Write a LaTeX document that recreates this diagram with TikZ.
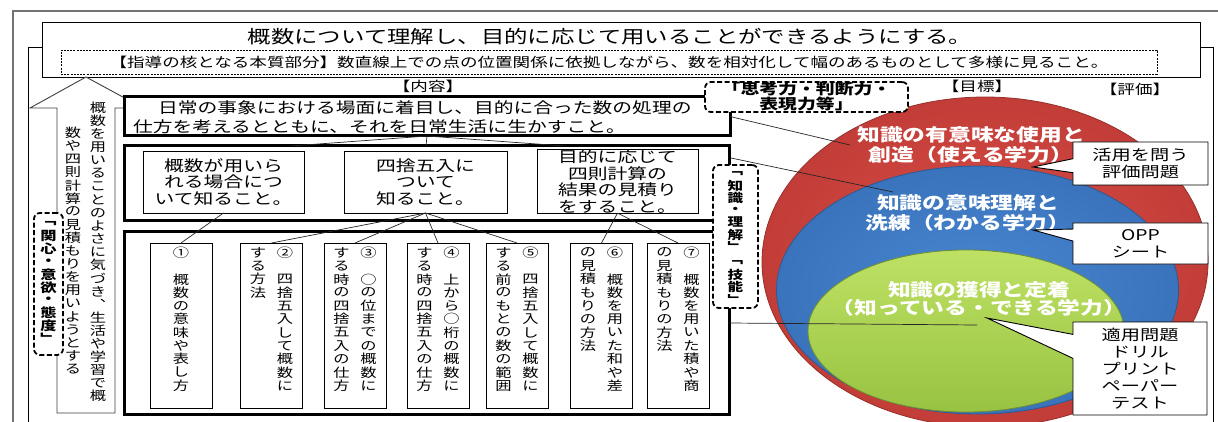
\documentclass[tikz,border=0pt]{standalone}
\usepackage{fontspec}
\setmainfont{Noto Sans CJK JP}[FakeStretch=1.3]
\usetikzlibrary{shapes.callouts}
\makeatletter
\newdimen\vcw \vcw=18pt
\newcommand\vcol[2][13.3pt]{\vtop{\offinterlineskip\@tfor\vc@t:=#2\do{\vbox to #1{\vss\hbox to\vcw{\hss\vc@t\hss}\vss}}}}
\makeatother
\newcommand\vtwo[3][13.3pt]{\hbox{\vcol[#1]{#3}\hskip9pt\vcol[#1]{#2}}}
\newcommand\fs[2]{\fontsize{#1}{#2}\selectfont}
\definecolor{redbody}{RGB}{216,68,62}
\definecolor{bluebody}{RGB}{64,128,208}
\definecolor{greenbody}{RGB}{160,205,70}
\definecolor{greenlight}{RGB}{190,225,100}
\begin{document}
\begin{tikzpicture}[x=1pt,y=-1pt,
 every node/.style={inner sep=0pt,outer sep=0pt},
 thinbox/.style={draw,line width=0.9pt,fill=white},
 thickbox/.style={draw,line width=3pt,fill=white},
 rdash/.style={draw,line width=1.8pt,dash pattern=on 5pt off 2.5pt,rounded corners=6pt,fill=white},
 link/.style={line width=0.7pt,draw=black!85},
 ttl/.style={font=\fs{18}{20}},
 mtext/.style={font=\fs{15.2}{16.5},align=center},
 vtext/.style={font=\fs{12.5}{13}},
 btext/.style={font=\fs{12.5}{13}\bfseries},
 ctext/.style={font=\fs{17.5}{20}\bfseries,text=white,align=center},
 callbox/.style={rectangle callout,draw,line width=0.9pt,fill=white,align=center,font=\fs{14.8}{17}},
 lab/.style={font=\fs{13.5}{14}},
]
\useasboundingbox (0,0) rectangle (1218,422);
\fill[white] (0,0) rectangle (1218,422);
\clip (0,0) rectangle (1218,422);
% frames
\draw[black!55,line width=2pt] (13,422) -- (13,11) -- (1218,11);
\draw[line width=0.8pt] (28,422) -- (28,47) -- (1213,47) -- (1213,422);
% target circles
\shadedraw[inner color=redbody!95!white,outer color=redbody!90!black,draw=redbody!70!black,line width=0.8pt] (985,262) ellipse [x radius=223pt,y radius=165pt];
\shadedraw[inner color=bluebody!95!white,outer color=bluebody!90!black,draw=bluebody!70!black,line width=0.8pt] (977.5,290) ellipse [x radius=201pt,y radius=124pt];
\shadedraw[top color=greenlight,middle color=greenbody,bottom color=greenbody!95!black,draw=greenbody!70!black,line width=0.8pt] (966,331) ellipse [x radius=158pt,y radius=81pt];
% title
\node[draw,line width=0.9pt,fill=white,minimum width=1158pt,minimum height=55pt] (title) at (621,49.5) {};
\node[ttl] (titletext) at (610,37) {概数について理解し、目的に応じて用いることができるようにする。};
\node[draw,line width=0.6pt,dash pattern=on 2pt off 1.2pt,minimum width=1096pt,minimum height=24pt,font=\fs{13.5}{15}] (core) at (609,62) {【指導の核となる本質部分】数直線上での点の位置関係に依拠しながら、数を相対化して幅のあるものとして多様に見ること。};
% headings
\node[lab] (hnaiyo) at (428,86) {【内容】};
\node[lab] (hmoku) at (977,86) {【目標】};
\node[lab] (hhyoka) at (1135,89) {【評価】};
% big arrow
\draw[line width=0.9pt,draw=black!75,fill=white] (57,413) -- (57,108) -- (30,108) -- (86,77) -- (143,108) -- (115,108) -- (115,413) -- cycle;
\node[vtext,anchor=north] (ar1) at (98,101.5) {\vcol[13.1pt]{概数を用いることのよさに気づき︑生活や学習で概}};
\node[vtext,anchor=north] (ar2) at (73,126.5) {\vcol[13.1pt]{数や四則計算の見積もりを用いようとする}};
% top content
\node[thickbox,minimum width=606pt,minimum height=39pt] (top) at (427,116.5) {};
\node[anchor=west,align=left,font=\fs{15.2}{19}] (toptext) at (133,117.5) {\hspace*{25pt}日常の事象における場面に着目し、目的に合った数の処理の\\仕方を考えるとともに、それを日常生活に生かすこと。};
% middle row
\node[thickbox,minimum width=605pt,minimum height=75pt] (mid) at (426.5,183.5) {};
\node[thinbox,mtext,minimum width=161pt,minimum height=62pt] (mA) at (223.5,182) {概数が用いら\\れる場合につ\\いて知ること。};
\node[thinbox,mtext,minimum width=163pt,minimum height=62pt] (mB) at (425.5,182) {四捨五入に\\ついて\\知ること。};
\node[thinbox,mtext,minimum width=161pt,minimum height=63pt] (mC) at (617.5,181.5) {目的に応じて\\四則計算の\\結果の見積り\\をすること。};
\begin{scope}
\clip (124,100) rectangle (730,146);
\draw[link] (top.south) -- (mA.north);
\draw[link] (top.south) -- (mB.north);
\draw[link] (top.south) -- (mC.north);
\end{scope}
% bottom row
\node[thickbox,minimum width=605pt,minimum height=182pt] (bot) at (426.5,323) {};
\foreach \n/\x in {1/181,2/271.5,3/355,4/438,5/517,6/601.5,7/678}
  \node[thinbox,minimum width=62pt,minimum height=165pt] (b\n) at (\x,325.5) {};
\node[vtext,anchor=north] (t1) at ([yshift=-3pt]b1.north) {\vcol{①　概数の意味や表し方}};
\node[vtext,anchor=north] (t2) at ([yshift=-3pt]b2.north) {\vtwo{②　四捨五入して概数に}{する方法}};
\node[vtext,anchor=north] (t3) at ([yshift=-3pt]b3.north) {\vtwo{③　○の位までの概数に}{する時の四捨五入の仕方}};
\node[vtext,anchor=north] (t4) at ([yshift=-3pt]b4.north) {\vtwo{④　上から○桁の概数に}{する時の四捨五入の仕方}};
\node[vtext,anchor=north] (t5) at ([yshift=-3pt]b5.north) {\vtwo{⑤　四捨五入して概数に}{する前のもとの数の範囲}};
\node[vtext,anchor=north] (t6) at ([yshift=-3pt]b6.north) {\vtwo{⑥　概数を用いた和や差}{の見積もりの方法}};
\node[vtext,anchor=north] (t7) at ([yshift=-3pt]b7.north) {\vtwo{⑦　概数を用いた積や商}{の見積もりの方法}};
\draw[link] (mA.south) -- (b1.north);
\draw[link] (mB.south) -- (b2.north);
\draw[link] (mB.south) -- (b3.north);
\draw[link] (mB.south) -- (b4.north);
\draw[link] (mB.south) -- (b5.north);
\draw[link] (mC.south) -- (b6.north);
\draw[link] (mC.south) -- (b7.north);
% lines to the goals
\coordinate (eR) at (850,145);
\coordinate (eB) at (893,192);
\coordinate (eG) at (977,325);
\coordinate (mE) at (731,158);
\draw[link] (top.east) -- (eR);
\draw[link] (mE) -- (eB);
\draw[link] (bot.east) -- (eG);
% dashed labels
\node[rdash,minimum width=203pt,minimum height=30pt,align=center,font=\fs{14.5}{15}\bfseries] (shiko) at (806.5,97) {「思考力・判断力・\\表現力等」};
\node[rdash,minimum width=45pt,minimum height=143pt] (chishiki) at (735.5,236.5) {};
\node[font=\fs{12}{13}\bfseries] (chishikit) at (chishiki) {\vbox{\offinterlineskip\vcol[12.2pt]{﹁知識・理解﹂}\kern4pt\vcol[12.2pt]{﹁技能﹂}}};
\node[rdash,minimum width=29pt,minimum height=142pt] (kanshin) at (48.5,284) {};
\node[btext] (kanshint) at (48.5,281) {\vcol[12.8pt]{﹁関心・意欲・態度﹂}};
% circle texts
\node[ctext] (redtxt) at (971,145) {知識の有意味な使用と\\創造（使える学力）};
\node[ctext] (bluetxt) at (968,212.5) {知識の意味理解と\\洗練（わかる学力）};
\node[ctext,font=\fs{17.5}{18}\bfseries] (greentxt) at (979,299) {知識の獲得と定着\\（知っている・できる学力）};
% evaluation callouts
\node[callbox,minimum width=135pt,minimum height=43pt,callout absolute pointer={(1033,167)},callout pointer width=14pt] (c1) at (1140.5,163.5) {活用を問う\\評価問題};
\node[callbox,minimum width=135pt,minimum height=41pt,callout absolute pointer={(1033,230)},callout pointer width=12pt] (c2) at (1140.5,243.5) {OPP\\シート};
\node[callbox,minimum width=134pt,minimum height=93pt,callout absolute pointer={(987,318)},callout pointer width=24pt] (c3) at (1140,368.5) {適用問題\\ドリル\\プリント\\ペーパー\\テスト};
\end{tikzpicture}
\end{document}
